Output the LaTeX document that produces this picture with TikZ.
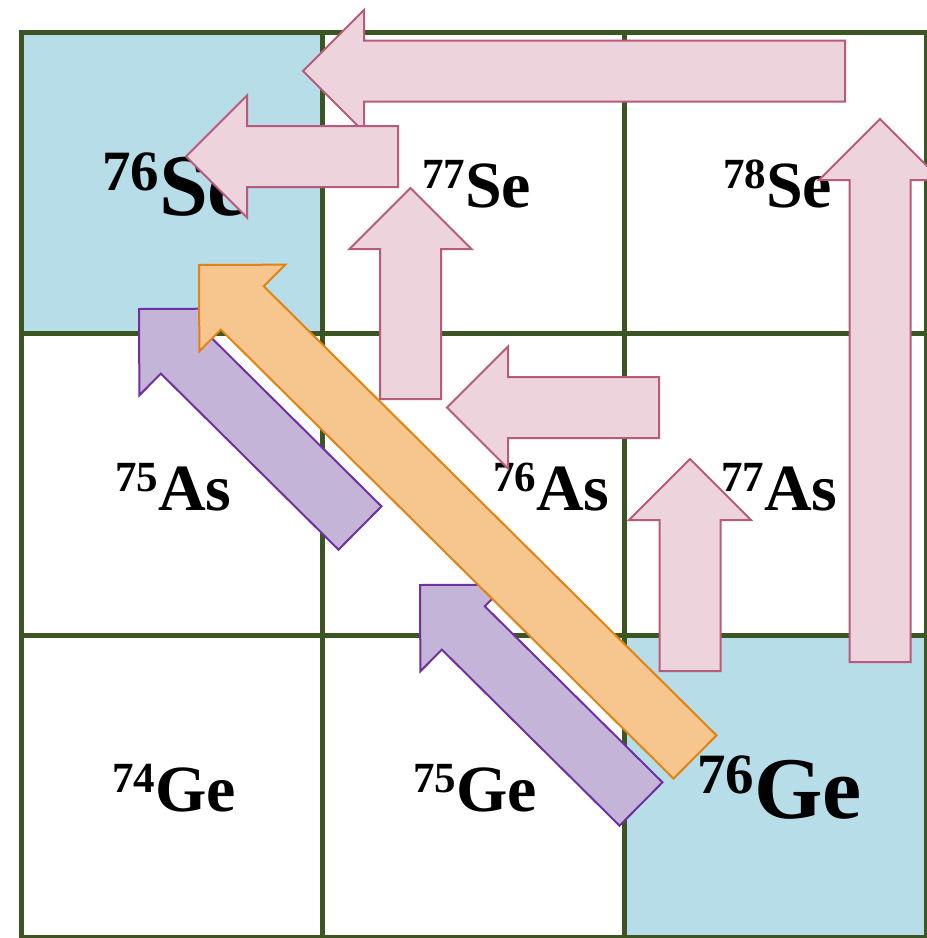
\documentclass[tikz,border=0pt]{standalone}
\usepackage{fontspec}
\setmainfont{Liberation Serif}
\usetikzlibrary{calc}
\definecolor{gridgreen}{HTML}{3B5623}
\definecolor{cellblue}{HTML}{B7DDE8}
\definecolor{pinkfill}{HTML}{EDD3DC}
\definecolor{pinkline}{HTML}{B85A7C}
\definecolor{purfill}{HTML}{C4B5D8}
\definecolor{purline}{HTML}{7030A0}
\definecolor{orfill}{HTML}{F6C68E}
\definecolor{orline}{HTML}{E08312}
\newcommand{\smalliso}[2]{{\fontsize{43}{43}\selectfont\bfseries\raisebox{19pt}{#1}}{\fontsize{66}{66}\selectfont\bfseries #2}}
\newcommand{\bigiso}[2]{{\fontsize{57}{57}\selectfont\bfseries\raisebox{25pt}{#1}}{\fontsize{88}{88}\selectfont\bfseries #2}}
\newcommand{\blockarrow}[3]{%
  \coordinate (#2m) at ($(#3)!61pt!(#2)$);
  \draw[#1] ($(#2)!30.5pt!90:(#3)$) -- ($(#2m)!30.5pt!90:(#3)$) -- ($(#2m)!61pt!90:(#3)$) -- (#3)
    -- ($(#2m)!61pt!-90:(#3)$) -- ($(#2m)!30.5pt!-90:(#3)$) -- ($(#2)!30.5pt!-90:(#3)$) -- cycle;}
\tikzset{
  cellwhite/.style={rectangle, fill=white, minimum width=301.67pt, minimum height=301.67pt, inner sep=0pt, outer sep=0pt},
  cellblue/.style={cellwhite, fill=cellblue},
  gridline/.style={draw=gridgreen, line width=5pt, line cap=rect},
  iso/.style={anchor=base west, inner sep=0pt, outer sep=0pt, text=black},
  pinkarrow/.style={fill=pinkfill, draw=pinkline, line width=2pt, line join=miter},
  purarrow/.style={fill=purfill, draw=purline, line width=2pt, line join=miter},
  orarrow/.style={fill=orfill, draw=orline, line width=2pt, line join=miter}
}
\begin{document}
\begin{tikzpicture}[x=1pt, y=-1pt]
\useasboundingbox (0,0) rectangle (927,938);
\clip (0,0) rectangle (927,938);
% cells
\node[cellblue]  (cSe76) at (171.83,182.83) {};
\node[cellwhite] (cSe77) at (473.5,182.83) {};
\node[cellwhite] (cSe78) at (775.17,182.83) {};
\node[cellwhite] (cAs75) at (171.83,484.5) {};
\node[cellwhite] (cAs76) at (473.5,484.5) {};
\node[cellwhite] (cAs77) at (775.17,484.5) {};
\node[cellwhite] (cGe74) at (171.83,786.17) {};
\node[cellwhite] (cGe75) at (473.5,786.17) {};
\node[cellblue]  (cGe76) at (775.17,786.17) {};
% grid
\foreach \k in {0,1,2,3} {
  \draw[gridline] (21+301.67*\k,32) -- (21+301.67*\k,937);
  \draw[gridline] (21,32+301.67*\k) -- (926,32+301.67*\k);
}
% labels
\node[iso] (lSe76) at (102,215) {\bigiso{76}{Se}};
\node[iso] (lSe77) at (422,207) {\smalliso{77}{Se}};
\node[iso] (lSe78) at (723,207) {\smalliso{78}{Se}};
\node[iso] (lAs75) at (115,510) {\smalliso{75}{As}};
\node[iso] (lAs76) at (493,510) {\smalliso{76}{As}};
\node[iso] (lAs77) at (721,510) {\smalliso{77}{As}};
\node[iso] (lGe74) at (112,811) {\smalliso{74}{Ge}};
\node[iso] (lGe75) at (413,811) {\smalliso{75}{Ge}};
\node[iso] (lGe76) at (697,818) {\bigiso{76}{Ge}};
% arrow end points
\coordinate (a1t) at (845,71);    \coordinate (a1h) at (303,71);
\coordinate (a2t) at (398,156.5); \coordinate (a2h) at (186,156.5);
\coordinate (a3t) at (410.5,399); \coordinate (a3h) at (410.5,188);
\coordinate (a4t) at (659,407.5); \coordinate (a4h) at (447,407.5);
\coordinate (a5t) at (690,671);   \coordinate (a5h) at (690,459);
\coordinate (a6t) at (880,662);   \coordinate (a6h) at (880,119);
\coordinate (p1t) at (360,528);   \coordinate (p1h) at (139,309);
\coordinate (p2t) at (641,804);   \coordinate (p2h) at (420,585);
\coordinate (o1t) at (695,757);   \coordinate (o1h) at (199,265);
% arrows
\blockarrow{pinkarrow}{a1t}{a1h}
\blockarrow{pinkarrow}{a2t}{a2h}
\blockarrow{pinkarrow}{a3t}{a3h}
\blockarrow{pinkarrow}{a4t}{a4h}
\blockarrow{pinkarrow}{a5t}{a5h}
\blockarrow{pinkarrow}{a6t}{a6h}
\blockarrow{purarrow}{p1t}{p1h}
\blockarrow{purarrow}{p2t}{p2h}
\blockarrow{orarrow}{o1t}{o1h}
\end{tikzpicture}
\end{document}
